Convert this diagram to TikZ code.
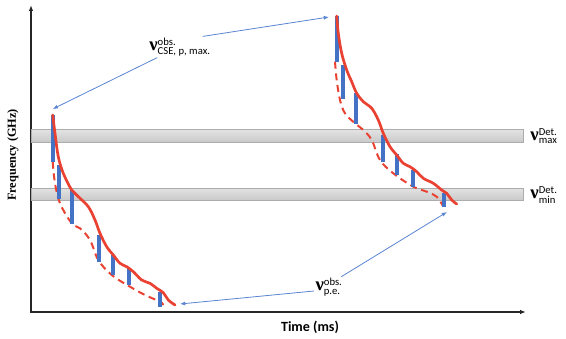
\documentclass[tikz,border=0pt]{standalone}
\usepackage{amsmath}
\usepackage{fontspec}
\setmainfont{Carlito}
\newfontfamily\serifbf{Liberation Serif}
\usetikzlibrary{arrows.meta}
\definecolor{curvered}{RGB}{234,66,50}
\definecolor{barblue}{RGB}{68,114,196}
\definecolor{pointblue}{RGB}{92,134,210}
\newcommand{\nufreq}{\mbox{\serifbf\bfseries\fontsize{16}{16}\selectfont ν}}

\begin{document}
\begin{tikzpicture}[
  x=0.3mm, y=-0.3mm,
  axis/.style={{Latex[length=5pt]}-{Latex[length=5pt]}, line width=1.1pt, color=black!85},
  band/.style={draw=gray!65, line width=0.5pt, top color=gray!22, bottom color=gray!42},
  obsline/.style={curvered, line width=2.3pt, line cap=round},
  peline/.style={curvered, line width=1.7pt, dash pattern=on 6pt off 4pt},
  bar/.style={barblue, line width=3.4pt},
  pointer/.style={-{Latex[length=4.5pt, width=3.5pt]}, pointblue, line width=0.7pt},
  freqlabel/.style={inner sep=1pt, font=\fontsize{13}{15}\selectfont}
]
\useasboundingbox (0,0) rectangle (566,339);

% axes
\coordinate (origin) at (31,312);
\coordinate (ytop) at (31,5);
\coordinate (xend) at (526,312);
\draw[axis] (ytop) -- (origin) -- (xend);
\node[rotate=90, font=\serifbf\bfseries\fontsize{10.5}{12}\selectfont] (ylab) at (13,155) {Frequency (GHz)};
\node[font=\bfseries\fontsize{12}{14}\selectfont] (xlab) at (310,327) {Time (ms)};

% detector band
\fill[band] (31,129.5) rectangle (523,142);
\fill[band] (31,188) rectangle (523,200);
\node[freqlabel] (detmax) at (544,136) {$\nufreq^{\text{Det.}}_{\text{max}}$};
\node[freqlabel] (detmin) at (544,195) {$\nufreq^{\text{Det.}}_{\text{min}}$};

% first burst
\draw[peline] plot[smooth, tension=0.6] coordinates {(52.7,161.7) (55,183.3) (60,203.3) (71.7,223.3) (80,228.3) (90,240) (98.3,260) (111.7,275) (130,286.7) (145,295) (160,301.7) (163.3,305)};
\foreach \x/\ya/\yb in {52.7/115/161.7, 59.3/165/199.3, 72/190/224, 99.3/235/261.7, 113/255/275, 129.3/268.3/285, 160/291.7/306.7}
  \draw[bar] (\x,\ya) -- (\x,\yb);
\draw[obsline] plot[smooth, tension=0.6] coordinates {(52.7,115) (55,133.3) (58.3,156.7) (63.3,173.3) (71.7,190) (78.3,196.7) (88.3,206.7) (95,220) (100,233.3) (106.7,246.7) (113.3,255) (120,263.3) (126.7,266.7) (133.3,271.7) (141.7,280) (150,283.3) (156.7,288.3) (163.3,292.7) (168.3,300) (175,305)};

% second burst
\draw[peline] plot[smooth, tension=0.6] coordinates {(335,61.7) (336.7,80) (340,100) (345,113.3) (355,123.3) (363.3,130) (371.7,140) (380,160) (393.3,173.3) (413.3,186.7) (426.7,191.7) (436.7,196.7) (443.3,206.7)};
\foreach \x/\ya/\yb in {336.7/16/61.7, 343.3/65/99.3, 356/93.3/124, 382.7/135/161.7, 396.7/154.3/175, 413.3/170/186.7, 444/192.7/206.7}
  \draw[bar] (\x,\ya) -- (\x,\yb);
\draw[obsline] plot[smooth, tension=0.6] coordinates {(336.7,16) (338.3,33.3) (341.7,53.3) (346.7,70) (351.7,81.7) (356.7,93.3) (363.3,101.7) (371.7,108.3) (378.3,120) (383.3,133.3) (390,146.7) (396.7,155) (403.3,163.3) (410,166.7) (416.7,171.7) (423.3,178.3) (433.3,183.3) (441.7,190) (446.7,193.3) (451.7,200) (456.7,204)};

% labels and pointers
\node[freqlabel] (cse) at (180,47) {$\nufreq^{\text{obs.}}_{\text{CSE, p, max.}}$};
\node[freqlabel] (pe) at (329,287) {$\nufreq^{\text{obs.}}_{\text{p.e.}}$};
\coordinate (firsttop) at (52.7,109);
\coordinate (secondtop) at (329,17);
\coordinate (firstend) at (180,304);
\coordinate (secondend) at (447,212);
\draw[pointer] (cse.205) -- (firsttop);
\draw[pointer] (cse.25) -- (secondtop);
\draw[pointer] (pe.195) -- (firstend);
\draw[pointer] (pe.40) -- (secondend);

\end{tikzpicture}
\end{document}
